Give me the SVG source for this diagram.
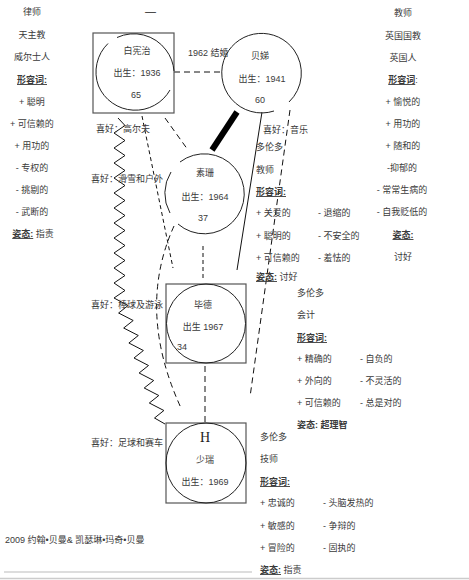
<svg xmlns="http://www.w3.org/2000/svg" width="469" height="580" viewBox="0 0 469 580">
<style>
text{font-family:"Liberation Sans","Noto Sans CJK SC",sans-serif;font-size:9px;fill:#3a3a3a}
.c{text-anchor:middle}
.u{text-decoration:underline;font-weight:bold}
.b{font-weight:bold}
.box{fill:none;stroke:#555;stroke-width:1.2}
.ring{fill:none;stroke:#222;stroke-width:1}
.ln{fill:none;stroke:#111;stroke-width:1}
.d{stroke-dasharray:6 4}
.d2{stroke-dasharray:4 3}
</style>
<rect width="469" height="580" fill="#fff"/>
<g id="connectors">
  <line class="ln d" x1="174" y1="72" x2="222" y2="72"/>
  <line x1="237" y1="112" x2="212" y2="150" stroke="#000" stroke-width="6"/>
  <line class="ln" x1="262" y1="112" x2="237" y2="270"/>
  <line class="ln d" x1="290" y1="110" x2="250" y2="397"/>
  <line class="ln d2" x1="142" y1="116" x2="173" y2="268"/>
  <line class="ln d" x1="165" y1="118" x2="188" y2="150"/>
  <line class="ln d2" x1="203" y1="246" x2="203" y2="278"/>
  <path class="ln d" d="M174,226 Q136,310 181,408"/>
  <line class="ln d" x1="205" y1="366" x2="205" y2="422"/>
  <polyline class="ln" points="118,118 125,125.5 114,133 125,140.5 114,148 125,155.5 114,163 125,170.5 114,178 125,185.5 114,193 125,200.5 114,208 125,215.5 114,223 125,230.5 114,238 125,245.5 114,253 125,260.5 114,268 125,275.5 114,283 125,290.5 114,298 128.1,305.5 118.6,313 133.2,320.5 123.7,328 138.3,335.5 128.9,343 143.4,350.5 134,358 148.5,365.5 139.1,373 153.7,380.5 144.2,388 158.8,395.5 149.3,403 163.9,410.5 154.5,418 165,424"/>
</g>
<g id="left-info">
  <text class="c" x="32" y="15">律师</text>
  <text class="c" x="32" y="38">天主教</text>
  <text class="c" x="32" y="60">威尔士人</text>
  <text class="c u" x="32" y="83">形容词:</text>
  <text class="c" x="32" y="105">+ 聪明</text>
  <text class="c" x="32" y="127">+ 可信赖的</text>
  <text class="c" x="32" y="149">+ 用功的</text>
  <text class="c" x="32" y="171">- 专权的</text>
  <text class="c" x="32" y="193">- 挑剔的</text>
  <text class="c" x="32" y="215">- 武断的</text>
  <text class="c" x="33" y="237"><tspan class="u">姿态:</tspan> 指责</text>
</g>
<g id="right-info">
  <text class="c" x="403" y="16">教师</text>
  <text class="c" x="403" y="39">英国国教</text>
  <text class="c" x="403" y="61">英国人</text>
  <text class="c" x="403" y="83"><tspan class="u">形容词</tspan>:</text>
  <text class="c" x="403" y="105">+ 愉悦的</text>
  <text class="c" x="403" y="127">+ 用功的</text>
  <text class="c" x="403" y="149">+ 随和的</text>
  <text class="c" x="402" y="171">-抑郁的</text>
  <text class="c" x="402" y="193">- 常常生病的</text>
  <text class="c" x="402" y="215">- 自我贬低的</text>
  <text class="c u" x="403" y="238">姿态:</text>
  <text class="c" x="403" y="260">讨好</text>
</g>
<text x="145" y="15" style="font-size:11px;fill:#222">—</text>
<g id="node-baixianzhi">
  <rect class="box" x="93" y="33" width="81" height="80"/>
  <path class="ring" d="M98.5,86 A40,40 0 0 1 108,43.5 M117,37.5 A40,40 0 0 1 166,50 A40,40 0 0 1 174,71 M170,90 A40,40 0 0 1 98.5,86"/>
  <text class="c" x="137" y="54">白宪治</text>
  <text class="c" x="137" y="76">出生：1936</text>
  <text class="c" x="136" y="98">65</text>
  <text x="96" y="132">喜好：高尔夫</text>
</g>
<g id="node-beidi">
  <path class="ring" d="M226,55 A40,40 0 0 1 294,50 A40,40 0 0 1 289,102 M274,111 A40,40 0 0 1 226,55"/>
  <text class="c" x="260" y="59">贝娣</text>
  <text class="c" x="262" y="82">出生：1941</text>
  <text class="c" x="260" y="103">60</text>
  <text x="188" y="56">1962 结婚</text>
  <text x="263" y="133">喜好：音乐</text>
  <text x="256" y="150">多伦多</text>
  <text x="256" y="173">教师</text>
  <text class="u" x="256" y="195">形容词:</text>
  <text x="256" y="216">+ 关爱的</text>
  <text x="318" y="216">- 退缩的</text>
  <text x="256" y="239">+ 聪明的</text>
  <text x="318" y="239">- 不安全的</text>
  <text x="256" y="261">+ 可信赖的</text>
  <text x="318" y="261">- 羞怯的</text>
  <text x="256" y="280"><tspan class="u">姿态:</tspan> 讨好</text>
</g>
<g id="node-sushan">
  <path class="ring" d="M180,162 A40,40 0 1 1 178,224 M170,213 A40,40 0 0 1 171,172"/>
  <text class="c" x="205" y="176">素珊</text>
  <text class="c" x="205" y="200">出生：1964</text>
  <text class="c" x="203" y="221">37</text>
  <text x="91" y="182">喜好：滑雪和户外</text>
</g>
<g id="node-bide">
  <rect class="box" x="166" y="284" width="80" height="79"/>
  <circle class="ring" cx="206" cy="323.5" r="39.5"/>
  <text class="c" x="203" y="308">毕德</text>
  <text class="c" x="203" y="330">出生 1967</text>
  <text class="c" x="182" y="350">34</text>
  <text x="91" y="308">喜好：棒球及游泳</text>
  <text x="297" y="296">多伦多</text>
  <text x="297" y="318">会计</text>
  <text class="u" x="297" y="341">形容词:</text>
  <text x="297" y="362">+ 精确的</text>
  <text x="360" y="362">- 自负的</text>
  <text x="297" y="384">+ 外向的</text>
  <text x="360" y="384">- 不灵活的</text>
  <text x="297" y="406">+ 可信赖的</text>
  <text x="360" y="406">- 总是对的</text>
  <text class="b" x="297" y="428">姿态: 超理智</text>
</g>
<g id="node-shaorui">
  <rect class="box" x="166" y="423" width="80" height="80"/>
  <circle class="ring" cx="206" cy="463" r="40"/>
  <text class="c" x="205" y="442" style="font-family:'Liberation Serif',serif;font-size:14px;fill:#222">H</text>
  <text class="c" x="205" y="463">少瑞</text>
  <text class="c" x="205" y="485">出生：1969</text>
  <text x="91" y="446">喜好：足球和赛车</text>
  <text x="260" y="440">多伦多</text>
  <text x="260" y="462">技师</text>
  <text class="u" x="260" y="485">形容词:</text>
  <text x="260" y="506">+ 忠诚的</text>
  <text x="323" y="506">- 头脑发热的</text>
  <text x="260" y="529">+ 敏感的</text>
  <text x="323" y="529">- 争辩的</text>
  <text x="260" y="551">+ 冒险的</text>
  <text x="323" y="551">- 固执的</text>
  <text x="260" y="573"><tspan class="u">姿态:</tspan> 指责</text>
</g>
<text x="5" y="543">2009 约翰•贝曼&amp; 凯瑟琳•玛奇•贝曼</text>
<line x1="4" y1="572" x2="252" y2="572" stroke="#bbb" stroke-width="1"/>
<line x1="0" y1="578.5" x2="469" y2="578.5" stroke="#ccc" stroke-width="1.5"/>
</svg>
